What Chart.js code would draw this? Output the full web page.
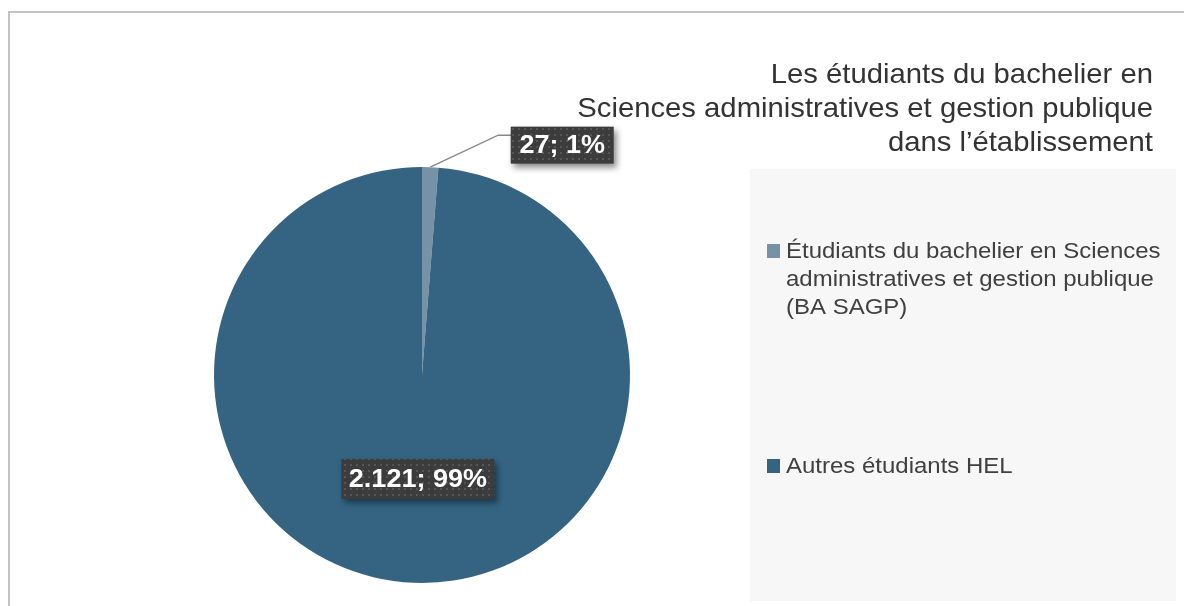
<!DOCTYPE html>
<html>
<head>
<meta charset="utf-8">
<script src="https://cdn.jsdelivr.net/npm/chart.js@4/dist/chart.umd.min.js"></script>
<style>
  html, body { margin: 0; padding: 0; background: #fff; }
  #wrap { width: 1184px; height: 606px; position: relative; }
</style>
</head>
<body>
<div id="wrap"><canvas id="pie" width="1184" height="606"></canvas></div>
<script>
// data
const categories = [
  ['Étudiants du bachelier en Sciences', 'administratives et gestion publique', '(BA SAGP)'],
  ['Autres étudiants HEL']
];
const values = [27, 2121];
const valueLabels = ['27', '2.121'];
const percentLabels = ['1%', '99%'];
const sliceColors = ['#7592a7', '#346482'];
const titleLines = [
  'Les étudiants du bachelier en',
  'Sciences administratives et gestion publique',
  'dans l\u2019établissement'
];

const FONT = '"Liberation Sans", Arial, Helvetica, sans-serif';

// dotted dark fill for the data label boxes
function makeDots(ctx) {
  const c = document.createElement('canvas');
  c.width = 6; c.height = 6;
  const p = c.getContext('2d');
  p.fillStyle = '#3c3c3c';
  p.fillRect(0, 0, 6, 6);
  p.fillStyle = '#565656';
  p.fillRect(2, 2, 2, 2);
  return ctx.createPattern(c, 'repeat');
}

// text slightly widened to mimic Helvetica Neue metrics
function wideText(ctx, text, x, y, sx, align) {
  ctx.save();
  ctx.translate(x, y);
  ctx.scale(sx, 1);
  ctx.textAlign = align;
  ctx.fillText(text, 0, 0);
  ctx.restore();
}

const framePlugin = {
  id: 'frame',
  beforeDraw(chart) {
    const ctx = chart.ctx;
    ctx.save();
    ctx.strokeStyle = '#c3c3c3';
    ctx.lineWidth = 2;
    ctx.beginPath();
    ctx.moveTo(9, 606);
    ctx.lineTo(9, 12);
    ctx.lineTo(1184, 12);
    ctx.stroke();
    // legend panel
    ctx.fillStyle = '#f7f7f7';
    ctx.fillRect(750, 169, 426, 432);
    ctx.restore();
  },
  afterDraw(chart) {
    const ctx = chart.ctx;
    ctx.save();
    // title, right aligned
    ctx.fillStyle = '#333333';
    ctx.font = '28px ' + FONT;
    ctx.textBaseline = 'alphabetic';
    titleLines.forEach((t, i) => wideText(ctx, t, 1153, 83 + i * 34, 1.045, 'right'));

    // legend
    ctx.font = '22px ' + FONT;
    const legendBase = [258, 473];
    categories.forEach((lines, i) => {
      ctx.fillStyle = sliceColors[i];
      ctx.fillRect(767, legendBase[i] - 14, 13, 14);
      ctx.fillStyle = '#404040';
      lines.forEach((t, j) => wideText(ctx, t, 786, legendBase[i] + j * 28, 1.09, 'left'));
    });
    ctx.restore();
  }
};

function drawBox(ctx, text, cx, cy, w, h) {
  ctx.save();
  ctx.shadowColor = 'rgba(0,0,0,0.45)';
  ctx.shadowBlur = 6;
  ctx.shadowOffsetX = 3;
  ctx.shadowOffsetY = 4;
  ctx.fillStyle = makeDots(ctx);
  ctx.fillRect(cx - w / 2, cy - h / 2, w, h);
  ctx.restore();
  ctx.save();
  ctx.fillStyle = '#ffffff';
  ctx.font = 'bold 25px ' + FONT;
  ctx.textBaseline = 'middle';
  wideText(ctx, text, cx, cy + 1, 1.08, 'center');
  ctx.restore();
}

const labelPlugin = {
  id: 'sliceLabels',
  afterDatasetsDraw(chart) {
    const ctx = chart.ctx;
    const arcs = chart.getDatasetMeta(0).data;

    // small slice: callout with leader line
    const a0 = arcs[0];
    const mid0 = (a0.startAngle + a0.endAngle) / 2;
    const ox = a0.x + Math.cos(mid0) * a0.outerRadius;
    const oy = a0.y + Math.sin(mid0) * a0.outerRadius;
    ctx.save();
    ctx.strokeStyle = '#8a8a8a';
    ctx.lineWidth = 1.5;
    ctx.beginPath();
    ctx.moveTo(ox, oy);
    ctx.lineTo(ox + 68, oy - 32);
    ctx.lineTo(ox + 82, oy - 32);
    ctx.stroke();
    ctx.restore();
    drawBox(ctx, valueLabels[0] + '; ' + percentLabels[0], ox + 132, oy - 22, 103, 37);

    // big slice: label at slice centre
    const c1 = arcs[1].getCenterPoint();
    drawBox(ctx, valueLabels[1] + '; ' + percentLabels[1], c1.x, c1.y, 153, 40);
  }
};

new Chart(document.getElementById('pie'), {
  type: 'pie',
  data: {
    labels: categories.map(l => l.join(' ')),
    datasets: [{
      data: values,
      backgroundColor: sliceColors,
      borderWidth: 0
    }]
  },
  options: {
    responsive: false,
    animation: false,
    layout: { padding: { left: 214, right: 554, top: 167, bottom: 23 } },
    plugins: {
      legend: { display: false },
      title: { display: false },
      tooltip: { enabled: false }
    }
  },
  plugins: [framePlugin, labelPlugin]
});
</script>
</body>
</html>
